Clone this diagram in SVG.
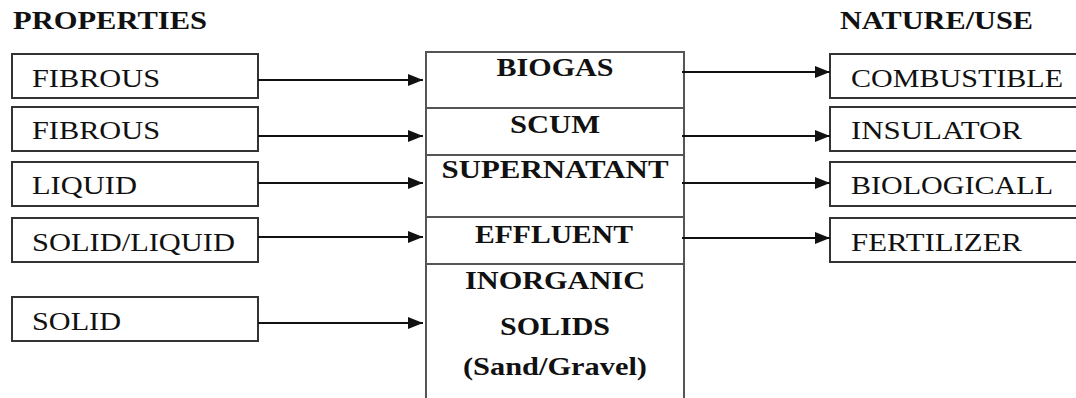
<svg xmlns="http://www.w3.org/2000/svg" width="1076" height="398" viewBox="0 0 1076 398">
<style>
.box{fill:#fff;stroke:#333;stroke-width:2}
.col{fill:none;stroke:#555;stroke-width:2}
.t{font-family:"Liberation Serif","Times New Roman",serif;font-size:24.5px;fill:#111}
.b{font-family:"Liberation Serif","Times New Roman",serif;font-size:24.5px;font-weight:bold;fill:#111}
.c{text-anchor:middle}
.ar{stroke:#111;stroke-width:2;fill:none}
</style>
<defs>
<marker id="ah" markerUnits="userSpaceOnUse" markerWidth="16" markerHeight="13" refX="15" refY="6" orient="auto">
<path d="M0,0 L15,6 L0,12 z" fill="#111"/>
</marker>
</defs>
<rect width="1076" height="398" fill="#fff"/>
<g id="headers">
<text class="b" x="13" y="29" textLength="194" lengthAdjust="spacingAndGlyphs">PROPERTIES</text>
<text class="b" x="840" y="29" textLength="193" lengthAdjust="spacingAndGlyphs">NATURE/USE</text>
</g>
<g id="prop-fibrous-1"><rect class="box" x="12" y="54" width="246" height="44"/><text class="t" x="32" y="87" textLength="128" lengthAdjust="spacingAndGlyphs">FIBROUS</text></g>
<g id="prop-fibrous-2"><rect class="box" x="12" y="107" width="246" height="44"/><text class="t" x="32" y="139" textLength="128" lengthAdjust="spacingAndGlyphs">FIBROUS</text></g>
<g id="prop-liquid"><rect class="box" x="12" y="162" width="246" height="44"/><text class="t" x="32" y="194" textLength="105" lengthAdjust="spacingAndGlyphs">LIQUID</text></g>
<g id="prop-solid-liquid"><rect class="box" x="12" y="218" width="246" height="44"/><text class="t" x="32" y="251" textLength="203" lengthAdjust="spacingAndGlyphs">SOLID/LIQUID</text></g>
<g id="prop-solid"><rect class="box" x="12" y="297" width="246" height="44"/><text class="t" x="32" y="330" textLength="89" lengthAdjust="spacingAndGlyphs">SOLID</text></g>
<g id="digester">
<path class="col" d="M426,400 L426,52 L684,52 L684,400 M426,108 L684,108 M426,155 L684,155 M426,217 L684,217 M426,264 L684,264"/>
<text class="b c" x="555" y="76" textLength="117" lengthAdjust="spacingAndGlyphs">BIOGAS</text>
<text class="b c" x="555" y="133" textLength="90" lengthAdjust="spacingAndGlyphs">SCUM</text>
<text class="b c" x="555" y="178" textLength="227" lengthAdjust="spacingAndGlyphs">SUPERNATANT</text>
<text class="b c" x="554" y="243" textLength="158" lengthAdjust="spacingAndGlyphs">EFFLUENT</text>
<text class="b c" x="555" y="289" textLength="180" lengthAdjust="spacingAndGlyphs">INORGANIC</text>
<text class="b c" x="555" y="335" textLength="110" lengthAdjust="spacingAndGlyphs">SOLIDS</text>
<text class="b c" x="555" y="375" textLength="184" lengthAdjust="spacingAndGlyphs">(Sand/Gravel)</text>
</g>
<g id="use-combustible"><rect class="box" x="830" y="54" width="260" height="44"/><text class="t" x="851" y="87" textLength="212" lengthAdjust="spacingAndGlyphs">COMBUSTIBLE</text></g>
<g id="use-insulator"><rect class="box" x="830" y="107" width="260" height="44"/><text class="t" x="851" y="139" textLength="171" lengthAdjust="spacingAndGlyphs">INSULATOR</text></g>
<g id="use-biologicall"><rect class="box" x="830" y="162" width="260" height="44"/><text class="t" x="851" y="194" textLength="202" lengthAdjust="spacingAndGlyphs">BIOLOGICALL</text></g>
<g id="use-fertilizer"><rect class="box" x="830" y="218" width="260" height="44"/><text class="t" x="851" y="251" textLength="171" lengthAdjust="spacingAndGlyphs">FERTILIZER</text></g>
<g id="connectors">
<line class="ar" x1="258" y1="80" x2="423" y2="80" marker-end="url(#ah)"/>
<line class="ar" x1="258" y1="136" x2="423" y2="136" marker-end="url(#ah)"/>
<line class="ar" x1="258" y1="183" x2="423" y2="183" marker-end="url(#ah)"/>
<line class="ar" x1="258" y1="237" x2="423" y2="237" marker-end="url(#ah)"/>
<line class="ar" x1="258" y1="323" x2="423" y2="323" marker-end="url(#ah)"/>
<line class="ar" x1="682" y1="72" x2="830" y2="72" marker-end="url(#ah)"/>
<line class="ar" x1="682" y1="136" x2="830" y2="136" marker-end="url(#ah)"/>
<line class="ar" x1="682" y1="183" x2="830" y2="183" marker-end="url(#ah)"/>
<line class="ar" x1="682" y1="238" x2="830" y2="238" marker-end="url(#ah)"/>
</g>
</svg>
